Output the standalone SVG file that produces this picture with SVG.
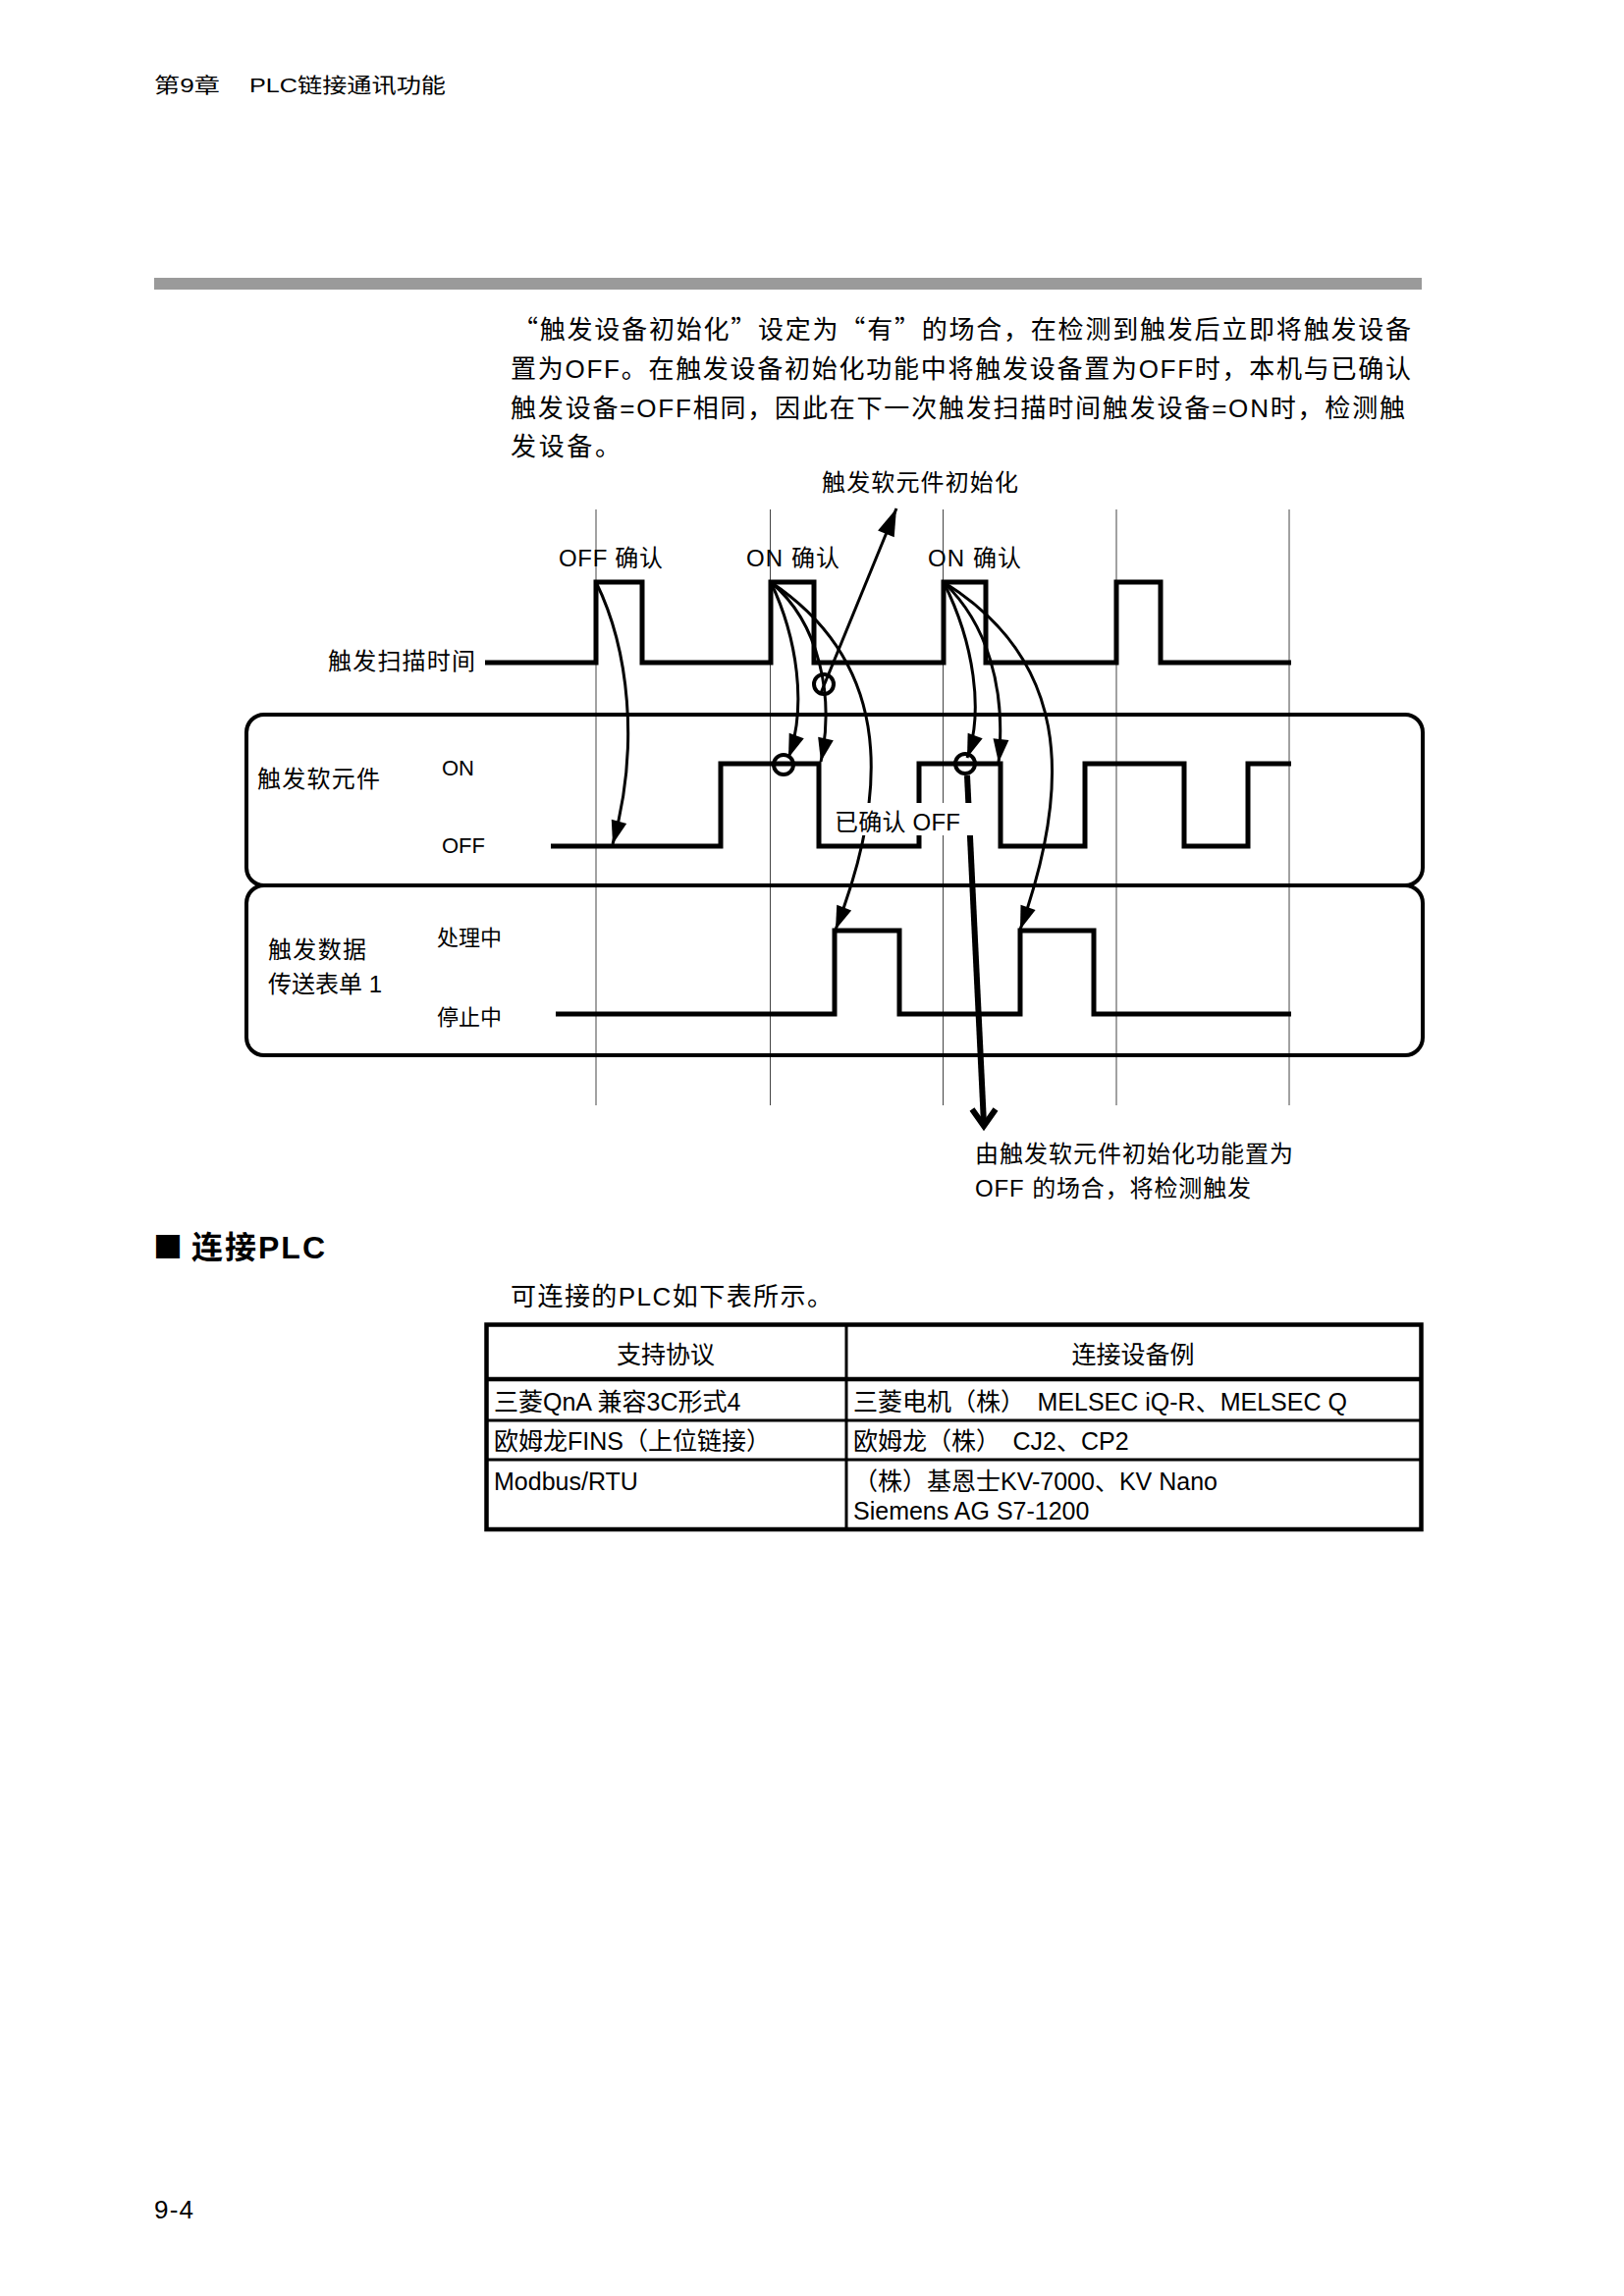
<svg xmlns="http://www.w3.org/2000/svg" width="1654" height="2339" viewBox="0 0 1654 2339">
<style>
text{font-family:"Liberation Sans","Noto Sans CJK SC",sans-serif;fill:#000}
.cjk{font-family:"Noto Sans CJK SC",sans-serif}
.t24{font-size:24px}
.t22{font-size:22px}
.t25{font-size:25px}
.t26{font-size:26px}
.wave{fill:none;stroke:#000;stroke-width:5;stroke-linejoin:miter}
.panel{fill:none;stroke:#000;stroke-width:4}
.guide{stroke:#444;stroke-width:1}
.curve{fill:none;stroke:#000;stroke-width:3}
.ring{fill:none;stroke:#000;stroke-width:4}
.tb{fill:none;stroke:#000}
</style>
<defs>
<marker id="ah" markerUnits="userSpaceOnUse" markerWidth="30" markerHeight="22" viewBox="-26 -11 28 22" refX="0" refY="0" orient="auto">
<path d="M0,0 L-24,-8 L-24,8 Z" fill="#000"/>
</marker>
<marker id="ah2" markerUnits="userSpaceOnUse" markerWidth="32" markerHeight="22" viewBox="-30 -11 32 22" refX="0" refY="0" orient="auto">
<path d="M0,0 L-28,-9 L-28,9 Z" fill="#000"/>
</marker>
</defs>
<rect width="1654" height="2339" fill="#fff"/>

<g id="header">
<text x="157" y="94" style="font-size:21px" textLength="67" lengthAdjust="spacingAndGlyphs">第9章</text>
<text x="254" y="94" style="font-size:21px" textLength="200" lengthAdjust="spacingAndGlyphs">PLC链接通讯功能</text>
<rect x="157" y="283" width="1291" height="12" fill="#9a9a9a"/>
</g>

<g id="paragraph" class="t26">
<text x="522" y="345" textLength="915"><tspan class="cjk">“</tspan>触发设备初始化<tspan class="cjk">”</tspan>设定为<tspan class="cjk">“</tspan>有<tspan class="cjk">”</tspan>的场合，在检测到触发后立即将触发设备</text>
<text x="520" y="385" textLength="917">置为OFF。在触发设备初始化功能中将触发设备置为OFF时，本机与已确认</text>
<text x="520" y="425" textLength="911">触发设备=OFF相同，因此在下一次触发扫描时间触发设备=ON时，检测触</text>
<text x="520" y="464" textLength="112">发设备。</text>
</g>

<g id="guides">
<line class="guide" x1="607" y1="519" x2="607" y2="1126"/>
<line class="guide" x1="784.5" y1="519" x2="784.5" y2="1126"/>
<line class="guide" x1="960.5" y1="519" x2="960.5" y2="1126"/>
<line class="guide" x1="1137" y1="519" x2="1137" y2="1126"/>
<line class="guide" x1="1313" y1="519" x2="1313" y2="1126"/>
</g>

<g id="panel-device">
<rect class="panel" x="251" y="728" width="1198" height="174" rx="18" ry="18"/>
</g>
<g id="panel-data">
<rect class="panel" x="251" y="902" width="1198" height="173" rx="18" ry="18"/>
</g>

<g id="scan-wave">
<path class="wave" d="M494,675 H607 V593 H654 V675 H785 V593 H829 V675 H961 V593 H1004 V675 H1137 V593 H1182 V675 H1315"/>
<text class="t24" x="334" y="682" textLength="150">触发扫描时间</text>
<text class="t24" x="569" y="577" textLength="106">OFF 确认</text>
<text class="t24" x="760" y="577" textLength="95">ON 确认</text>
<text class="t24" x="945" y="577" textLength="95">ON 确认</text>
</g>

<g id="device-wave">
<path class="wave" d="M561,862 H734 V778 H834 V862 H936 V778 H1019 V862 H1105 V778 H1206 V862 H1271 V778 H1315"/>
<text class="t24" x="262" y="802" textLength="125">触发软元件</text>
<text class="t22" x="450" y="790">ON</text>
<text class="t22" x="450" y="869">OFF</text>
</g>

<g id="data-wave">
<path class="wave" d="M566,1033 H850 V948 H916 V1033 H1039 V948 H1114 V1033 H1315"/>
<text class="t24" x="273" y="976" textLength="100">触发数据</text>
<text class="t24" x="273" y="1011">传送表单 1</text>
<text class="t22" x="445" y="963">处理中</text>
<text class="t22" x="445" y="1044">停止中</text>
</g>

<g id="connectors">
<path class="curve" d="M607,593 C640,660 652,760 624,860" marker-end="url(#ah)"/>
<path class="curve" d="M785,593 C812,650 822,720 803,772" marker-end="url(#ah)"/>
<path class="curve" d="M785,593 C835,635 850,710 836,776" marker-end="url(#ah)"/>
<path class="curve" d="M785,593 C900,670 912,790 851,947" marker-end="url(#ah)"/>
<path class="curve" d="M961,593 C992,655 1002,725 985,772" marker-end="url(#ah)"/>
<path class="curve" d="M961,593 C1005,635 1025,700 1017,777" marker-end="url(#ah)"/>
<path class="curve" d="M961,593 C1085,670 1095,790 1039,947" marker-end="url(#ah)"/>
<path class="curve" d="M836,706 L913,518" marker-end="url(#ah2)"/>
<path d="M985,790 L1002,1145" fill="none" stroke="#000" stroke-width="6"/>
<path d="M990,1130 L1002,1147 L1014,1130" fill="none" stroke="#000" stroke-width="6"/>
</g>

<g id="rings">
<circle class="ring" cx="839" cy="697" r="10"/>
<circle class="ring" cx="798" cy="779" r="10"/>
<circle class="ring" cx="983" cy="778" r="10"/>
</g>

<g id="label-confirmed-off">
<rect x="846" y="818" width="150" height="33" fill="#fff"/>
<text class="t24" x="850" y="846" textLength="128">已确认 OFF</text>
</g>

<g id="label-init">
<text class="t24" x="837" y="500" textLength="200">触发软元件初始化</text>
</g>

<g id="label-note">
<text class="t24" x="993" y="1184" textLength="324">由触发软元件初始化功能置为</text>
<text class="t24" x="993" y="1219" textLength="281">OFF 的场合，将检测触发</text>
</g>

<g id="section-heading">
<text x="156" y="1281" style="font-size:30px;font-family:'Noto Sans CJK SC',sans-serif">■</text>
<text x="195" y="1282" style="font-size:32px;font-weight:bold" textLength="136">连接PLC</text>
<text class="t26" x="520" y="1330" textLength="328">可连接的PLC如下表所示。</text>
</g>

<g id="plc-table">
<rect class="tb" x="495.5" y="1349.5" width="952" height="208.5" stroke-width="4.5"/>
<line class="tb" x1="862" y1="1349" x2="862" y2="1558" stroke-width="3"/>
<line class="tb" x1="495" y1="1405" x2="1448" y2="1405" stroke-width="4.5"/>
<line class="tb" x1="495" y1="1447" x2="1448" y2="1447" stroke-width="3"/>
<line class="tb" x1="495" y1="1487" x2="1448" y2="1487" stroke-width="3"/>
<g class="t25">
<text x="678" y="1389" text-anchor="middle">支持协议</text>
<text x="1154" y="1389" text-anchor="middle">连接设备例</text>
<text x="503" y="1437">三菱QnA 兼容3C形式4</text>
<text x="869" y="1437">三菱电机（株）　MELSEC iQ-R、MELSEC Q</text>
<text x="503" y="1477">欧姆龙FINS（上位链接）</text>
<text x="869" y="1477">欧姆龙（株）　CJ2、CP2</text>
<text x="503" y="1518">Modbus/RTU</text>
<text x="869" y="1518">（株）基恩士KV-7000、KV Nano</text>
<text x="869" y="1548">Siemens AG S7-1200</text>
</g>
</g>

<g id="footer">
<text x="157" y="2260" style="font-size:26px" textLength="40">9-4</text>
</g>
</svg>
